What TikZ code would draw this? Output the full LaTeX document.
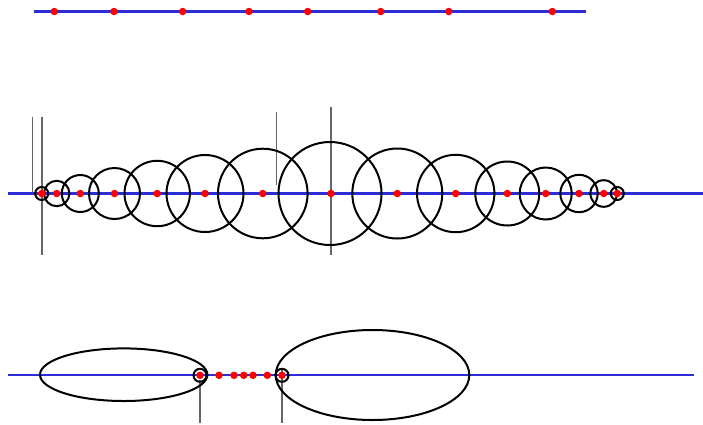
\documentclass[tikz,border=0pt]{standalone}
\usepackage{tikz}
\definecolor{axisblue}{RGB}{45,45,215}
\tikzset{
  blueline/.style={draw=axisblue,line width=2.2pt},
  ring/.style={draw=black,line width=2pt},
  guide/.style={draw=black!60,line width=1.1pt},
  dot/.style={circle,fill=red,inner sep=0pt,minimum size=7.5pt}
}
\begin{document}
\begin{tikzpicture}[x=1pt,y=-1pt]
\useasboundingbox (0,0) rectangle (703,424);
% ---- top row ----
\coordinate (ta) at (34,11.5);
\coordinate (tb) at (586,11.5);
\draw[blueline] (ta) -- (tb);
\foreach \x [count=\i] in {54.3,114,182.7,249,307.7,380.7,448.7,552.3}
  \node[dot] (td\i) at (\x,11.5) {};
% ---- middle row ----
\coordinate (v1a) at (32.7,116.5); \coordinate (v1b) at (32.7,193.5);
\coordinate (v2a) at (42,116.5);   \coordinate (v2b) at (42,255);
\coordinate (v3a) at (276.7,111.5);\coordinate (v3b) at (276.7,185);
\coordinate (v4a) at (331,106.5);  \coordinate (v4b) at (331,255);
\draw[guide] (v1a) -- (v1b);
\draw[guide] (v2a) -- (v2b);
\draw[guide] (v3a) -- (v3b);
\draw[guide] (v4a) -- (v4b);
\coordinate (ma) at (8,193.5);
\coordinate (mb) at (703,193.5);
\draw[blueline] (ma) -- (mb);
\foreach \x/\rr in {41.7/6.5,56.7/12.7,80.3/18.5,114.5/25.5,157.2/32.7,205/38.5,262.8/44.8,330/51.5,397.3/45,455.7/38.7,507.3/32,545.7/26,579/18.7,603.7/13.3,617.3/6.5}
  \draw[ring] (\x,193.5) circle[radius=\rr];
\foreach \x [count=\i] in {41.7,56.7,80.3,114.5,157.2,205,262.8,331,397.3,455.7,507.3,545.7,579,603.7,617.3}
  \node[dot] (md\i) at (\x,193.5) {};
% ---- bottom row ----
\coordinate (w1a) at (200,380); \coordinate (w1b) at (200,423);
\coordinate (w2a) at (282,368); \coordinate (w2b) at (282,423);
\draw[guide] (w1a) -- (w1b);
\draw[guide] (w2a) -- (w2b);
\coordinate (ba) at (8,375.3);
\coordinate (bb) at (694,375.3);
\draw[blueline] (ba) -- (bb);
\draw[ring] (123.7,374.7) ellipse[x radius=83.7,y radius=26.3];
\draw[ring] (372.5,375) ellipse[x radius=96.8,y radius=45];
\draw[ring] (200,375.3) circle[radius=6.5];
\draw[ring] (282,375.3) circle[radius=6.5];
\foreach \x [count=\i] in {200,219,234,243.7,253,267.3,282}
  \node[dot] (bd\i) at (\x,375.3) {};
\end{tikzpicture}
\end{document}
